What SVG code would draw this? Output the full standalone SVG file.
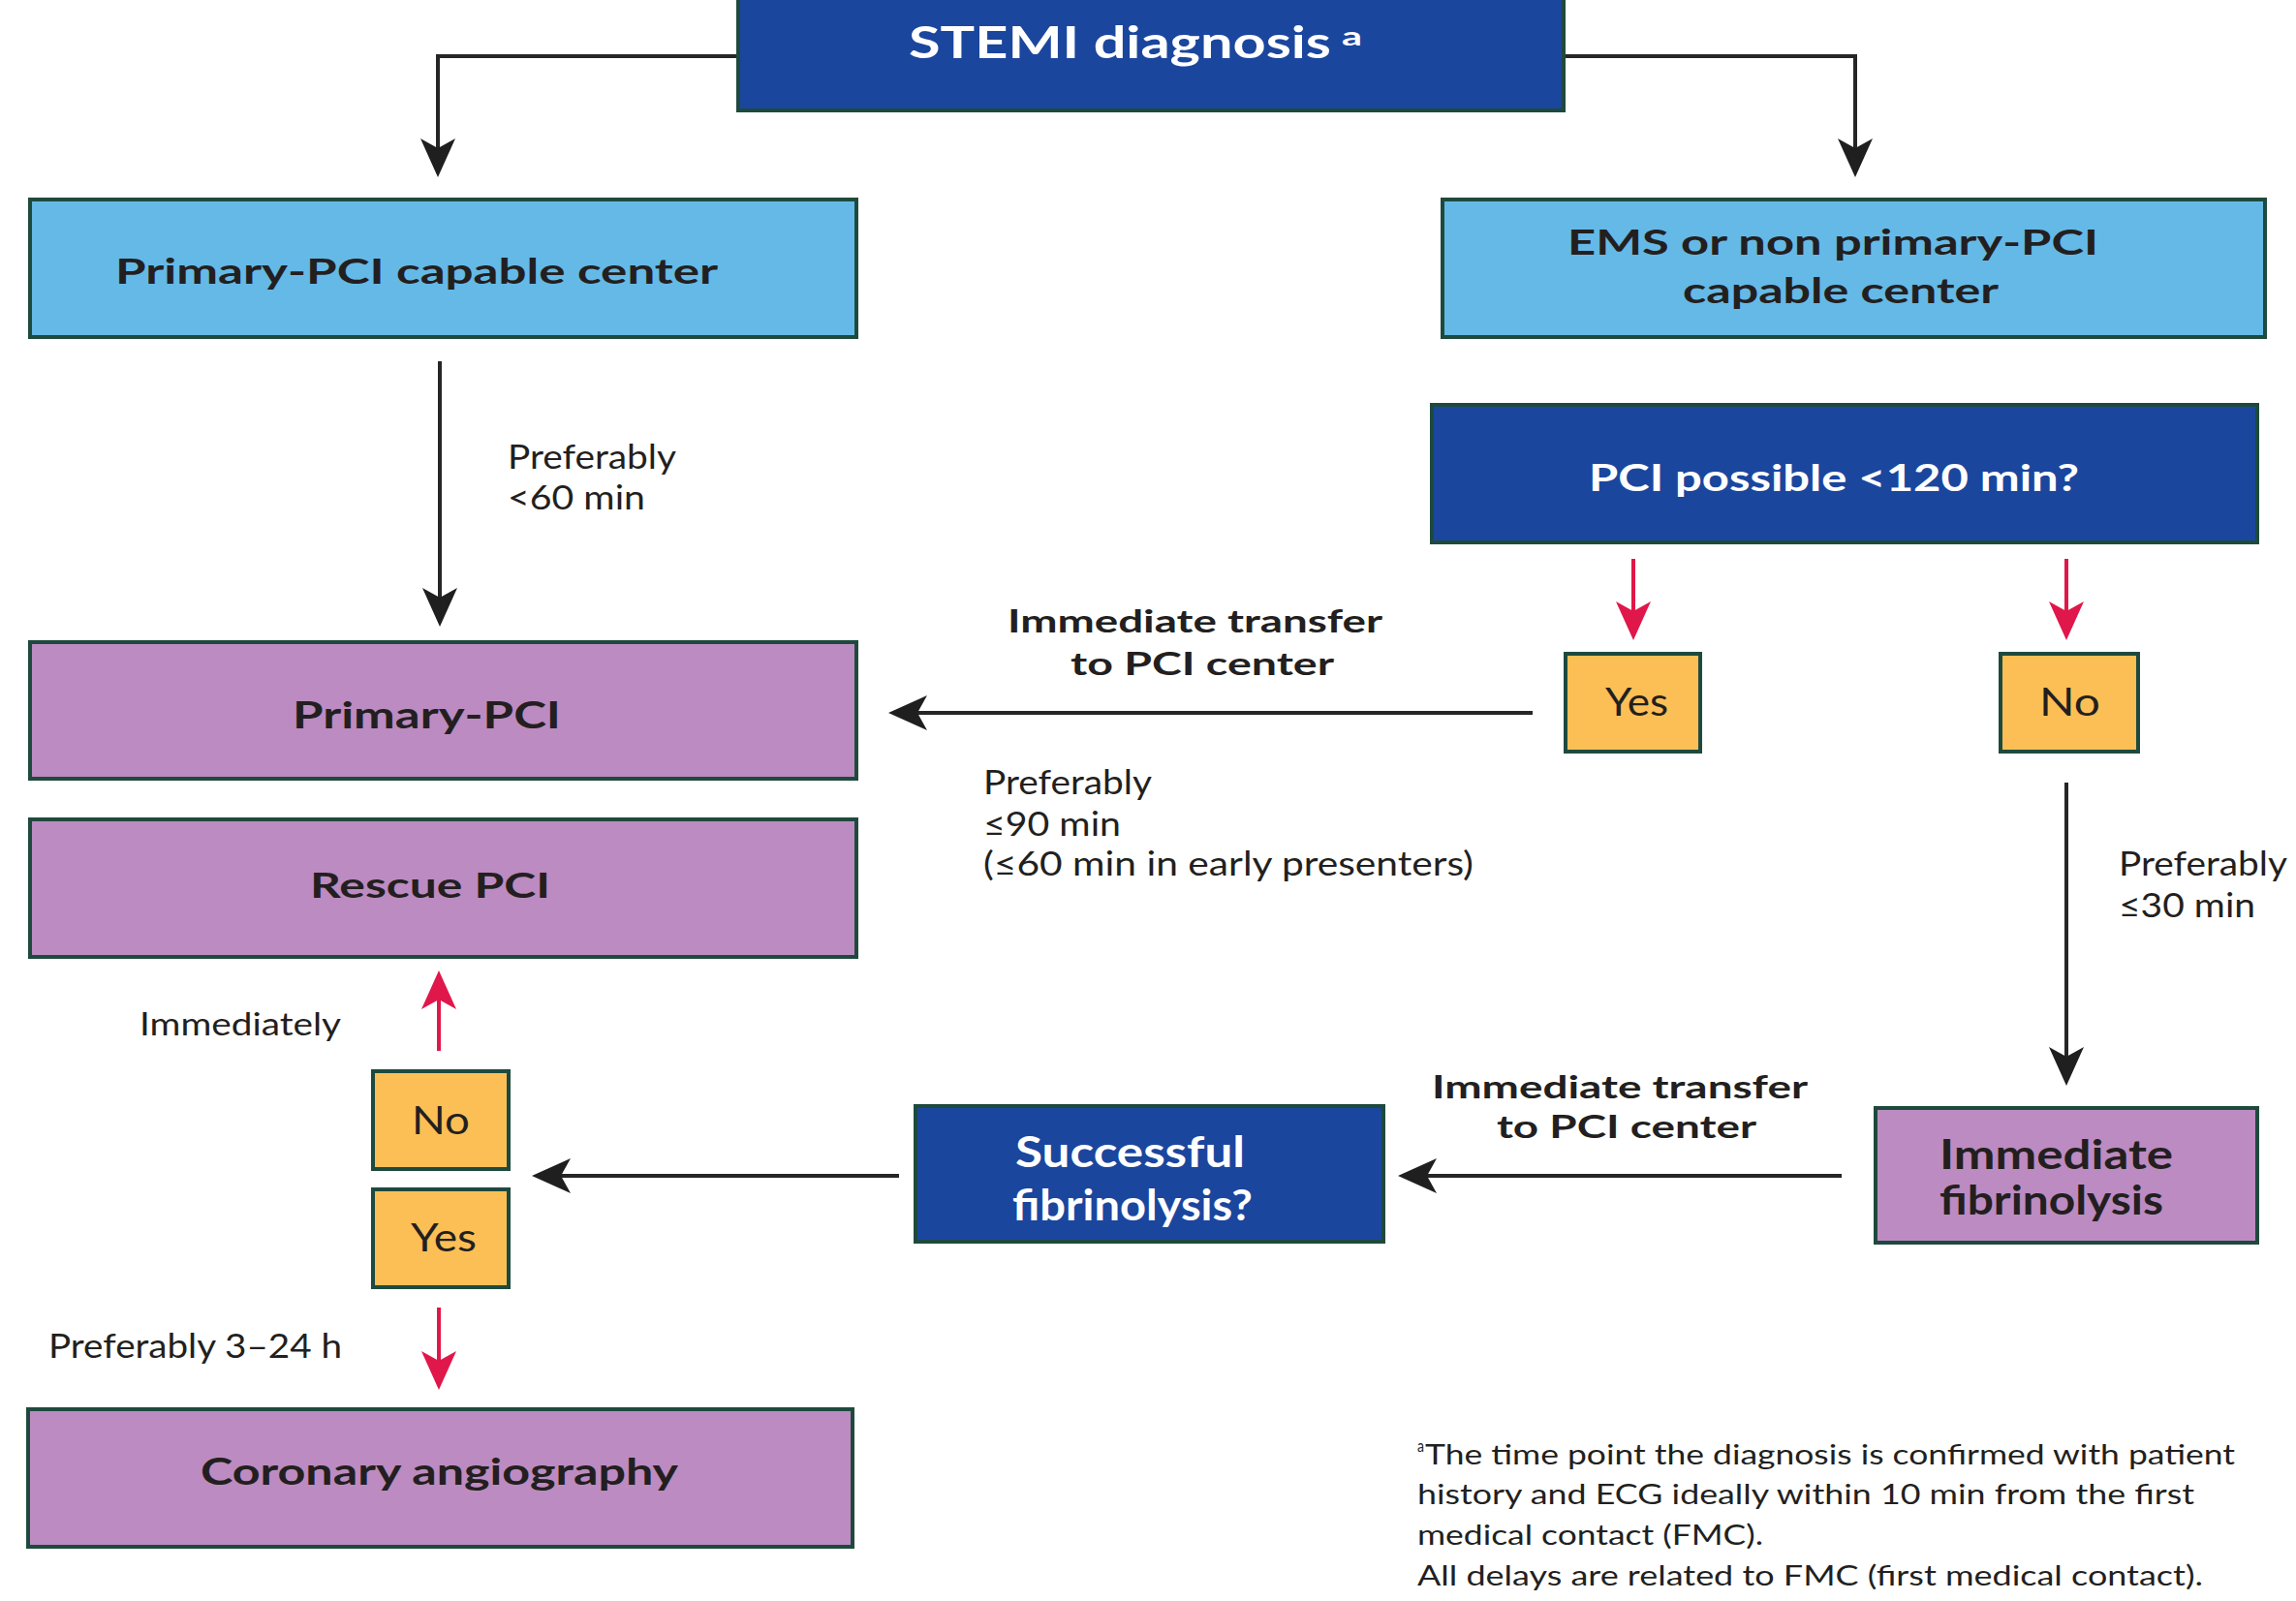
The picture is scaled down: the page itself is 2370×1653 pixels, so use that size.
<svg xmlns="http://www.w3.org/2000/svg" width="2370" height="1653" viewBox="0 0 2370 1653">
<style>
  .box { stroke: #1e4a3e; stroke-width: 4; }
  .lblue { fill: #65b9e7; }
  .dblue { fill: #1b469e; }
  .purple { fill: #bc8bc1; }
  .yellow { fill: #fcbf55; }
  text { font-family: Lato, "Liberation Sans", sans-serif; fill: #231f20; }
  .b { font-weight: 700; }
  .w { fill: #ffffff; }
  .conn { fill: none; stroke: #262626; stroke-width: 4; }
  .red { fill: none; stroke: #e0174a; stroke-width: 4; }
</style>
<defs>
  <marker id="ah" viewBox="0 0 40 36" refX="10" refY="18" markerWidth="40" markerHeight="36" markerUnits="userSpaceOnUse" orient="auto">
    <path d="M0,0 L40,18 L0,36 L10,18 Z" fill="#1f1f1f"/>
  </marker>
  <marker id="ahr" viewBox="0 0 40 36" refX="10" refY="18" markerWidth="40" markerHeight="36" markerUnits="userSpaceOnUse" orient="auto">
    <path d="M0,0 L40,18 L0,36 L10,18 Z" fill="#e0174a"/>
  </marker>
</defs>
<rect width="2370" height="1653" fill="#ffffff"/>

<g id="connectors">
  <path class="conn" d="M760,58 H452 V153" marker-end="url(#ah)"/>
  <path class="conn" d="M1616,58 H1915 V153" marker-end="url(#ah)"/>
  <path class="conn" d="M454,373 V617" marker-end="url(#ah)"/>
  <path class="red" d="M1686,577 V631" marker-end="url(#ahr)"/>
  <path class="red" d="M2133,577 V631" marker-end="url(#ahr)"/>
  <path class="conn" d="M1582,736 H947" marker-end="url(#ah)"/>
  <path class="conn" d="M2133,808 V1091" marker-end="url(#ah)"/>
  <path class="conn" d="M1901,1214 H1473" marker-end="url(#ah)"/>
  <path class="conn" d="M928,1214 H579" marker-end="url(#ah)"/>
  <path class="red" d="M453,1085 V1032" marker-end="url(#ahr)"/>
  <path class="red" d="M453,1350 V1405" marker-end="url(#ahr)"/>
</g>

<g id="labels">
  <text x="524" y="484" font-size="34" textLength="174" lengthAdjust="spacingAndGlyphs">Preferably</text>
  <text x="524" y="526" font-size="34" textLength="142" lengthAdjust="spacingAndGlyphs">&lt;60 min</text>
  <text class="b" x="1040" y="653" font-size="32" textLength="387" lengthAdjust="spacingAndGlyphs">Immediate transfer</text>
  <text class="b" x="1105" y="697" font-size="32" textLength="272" lengthAdjust="spacingAndGlyphs">to PCI center</text>
  <text x="1015" y="820" font-size="34" textLength="174" lengthAdjust="spacingAndGlyphs">Preferably</text>
  <text x="1015" y="863" font-size="34" textLength="142" lengthAdjust="spacingAndGlyphs">≤90 min</text>
  <text x="1015" y="904" font-size="34" textLength="506" lengthAdjust="spacingAndGlyphs">(≤60 min in early presenters)</text>
  <text x="2187" y="904" font-size="34" textLength="174" lengthAdjust="spacingAndGlyphs">Preferably</text>
  <text x="2187" y="947" font-size="34" textLength="141" lengthAdjust="spacingAndGlyphs">≤30 min</text>
  <text x="144" y="1069" font-size="33" textLength="208" lengthAdjust="spacingAndGlyphs">Immediately</text>
  <text class="b" x="1478" y="1134" font-size="32" textLength="388" lengthAdjust="spacingAndGlyphs">Immediate transfer</text>
  <text class="b" x="1545" y="1175" font-size="32" textLength="268" lengthAdjust="spacingAndGlyphs">to PCI center</text>
  <text x="50" y="1402" font-size="34" textLength="303" lengthAdjust="spacingAndGlyphs">Preferably 3–24 h</text>
</g>

<g id="stemi">
  <rect class="box dblue" x="762" y="-10" width="852" height="124"/>
  <text class="b w" x="938" y="60" font-size="46" textLength="436" lengthAdjust="spacingAndGlyphs">STEMI diagnosis</text>
  <text class="b w" x="1385" y="47" font-size="26" textLength="21" lengthAdjust="spacingAndGlyphs">a</text>
</g>
<g id="pci-capable">
  <rect class="box lblue" x="31" y="206" width="853" height="142"/>
  <text class="b" x="119" y="293" font-size="37" textLength="622" lengthAdjust="spacingAndGlyphs">Primary-PCI capable center</text>
</g>
<g id="ems">
  <rect class="box lblue" x="1489" y="206" width="849" height="142"/>
  <text class="b" x="1618" y="263" font-size="37" textLength="548" lengthAdjust="spacingAndGlyphs">EMS or non primary-PCI</text>
  <text class="b" x="1737" y="313" font-size="37" textLength="326" lengthAdjust="spacingAndGlyphs">capable center</text>
</g>
<g id="pci-possible">
  <rect class="box dblue" x="1478" y="418" width="852" height="142"/>
  <text class="b w" x="1640" y="507" font-size="38" textLength="506" lengthAdjust="spacingAndGlyphs">PCI possible &lt;120 min?</text>
</g>
<g id="yes-top">
  <rect class="box yellow" x="1616" y="675" width="139" height="101"/>
  <text x="1657" y="739" font-size="40" textLength="65" lengthAdjust="spacingAndGlyphs">Yes</text>
</g>
<g id="no-top">
  <rect class="box yellow" x="2065" y="675" width="142" height="101"/>
  <text x="2105" y="739" font-size="40" textLength="63" lengthAdjust="spacingAndGlyphs">No</text>
</g>
<g id="primary-pci">
  <rect class="box purple" x="31" y="663" width="853" height="141"/>
  <text class="b" x="302" y="752" font-size="38" textLength="277" lengthAdjust="spacingAndGlyphs">Primary-PCI</text>
</g>
<g id="rescue-pci">
  <rect class="box purple" x="31" y="846" width="853" height="142"/>
  <text class="b" x="320" y="927" font-size="37" textLength="248" lengthAdjust="spacingAndGlyphs">Rescue PCI</text>
</g>
<g id="no-bottom">
  <rect class="box yellow" x="385" y="1106" width="140" height="101"/>
  <text x="425" y="1171" font-size="40" textLength="60" lengthAdjust="spacingAndGlyphs">No</text>
</g>
<g id="yes-bottom">
  <rect class="box yellow" x="385" y="1228" width="140" height="101"/>
  <text x="424" y="1292" font-size="40" textLength="68" lengthAdjust="spacingAndGlyphs">Yes</text>
</g>
<g id="successful">
  <rect class="box dblue" x="945" y="1142" width="483" height="140"/>
  <text class="b w" x="1048" y="1205" font-size="44" textLength="237" lengthAdjust="spacingAndGlyphs">Successful</text>
  <text class="b w" x="1045" y="1260" font-size="44" textLength="248" lengthAdjust="spacingAndGlyphs">fibrinolysis?</text>
</g>
<g id="fibrinolysis">
  <rect class="box purple" x="1936" y="1144" width="394" height="139"/>
  <text class="b" x="2002" y="1207" font-size="42" textLength="241" lengthAdjust="spacingAndGlyphs">Immediate</text>
  <text class="b" x="2002" y="1254" font-size="42" textLength="231" lengthAdjust="spacingAndGlyphs">fibrinolysis</text>
</g>
<g id="angiography">
  <rect class="box purple" x="29" y="1455" width="851" height="142"/>
  <text class="b" x="207" y="1533" font-size="38" textLength="493" lengthAdjust="spacingAndGlyphs">Coronary angiography</text>
</g>
<g id="footnote">
  <text x="1463" y="1499" font-size="17" textLength="7" lengthAdjust="spacingAndGlyphs">a</text>
  <text x="1471" y="1512" font-size="29" textLength="836" lengthAdjust="spacingAndGlyphs">The time point the diagnosis is confirmed with patient</text>
  <text x="1463" y="1553" font-size="29" textLength="802" lengthAdjust="spacingAndGlyphs">history and ECG ideally within 10 min from the first</text>
  <text x="1463" y="1595" font-size="29" textLength="357" lengthAdjust="spacingAndGlyphs">medical contact (FMC).</text>
  <text x="1463" y="1637" font-size="29" textLength="811" lengthAdjust="spacingAndGlyphs">All delays are related to FMC (first medical contact).</text>
</g>
</svg>
